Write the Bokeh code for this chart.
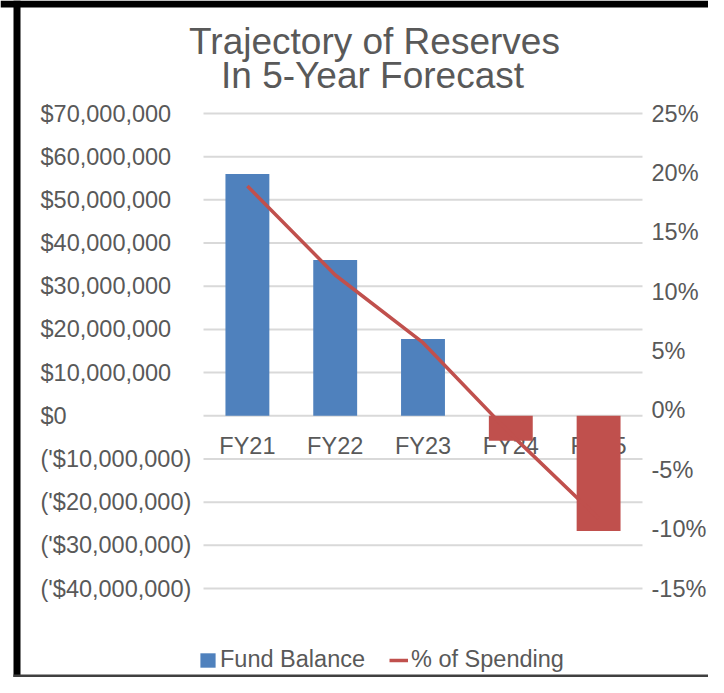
from bokeh.plotting import figure
from bokeh.models import (Range1d, Legend, LegendItem, Label, LabelSet, ColumnDataSource,
                          BoxAnnotation)
from bokeh.core.properties import value
from bokeh.embed import file_html
from bokeh.resources import INLINE

# ---- data ----
years = ["FY21", "FY22", "FY23", "FY24", "FY25"]
fund_balance = [56_000_000, 36_100_000, 17_800_000, -5_800_000, -26_700_000]
pct_spending = [0.189, 0.114, 0.057, -0.020, -0.091]

left_ticks = [70e6, 60e6, 50e6, 40e6, 30e6, 20e6, 10e6, 0, -10e6, -20e6, -30e6, -40e6]
left_labels = ["$70,000,000", "$60,000,000", "$50,000,000", "$40,000,000", "$30,000,000",
               "$20,000,000", "$10,000,000", "$0", "('$10,000,000)", "('$20,000,000)",
               "('$30,000,000)", "('$40,000,000)"]
right_ticks = [0.25, 0.20, 0.15, 0.10, 0.05, 0.0, -0.05, -0.10, -0.15]
right_labels = ["25%", "20%", "15%", "10%", "5%", "0%", "-5%", "-10%", "-15%"]

title_lines = ["Trajectory of Reserves", "In 5-Year Forecast"]
series_names = ["Fund Balance", "% of Spending"]

# ---- styling / layout ----
BLUE = "#4F81BD"
RED = "#C0504D"
TEXT = "#595959"
GRID = "#d9d9d9"
FONT = "Liberation Sans"
FS = "23.5px"

W, H = 708, 677
PL, PR, PT, PB = 203, 642, 113, 588          # plot-area edges in canvas pixels

y_lo, y_hi = min(left_ticks), max(left_ticks)
p_lo, p_hi = min(right_ticks), max(right_ticks)
ypp = (y_hi - y_lo) / (PB - PT)
ppp = (p_hi - p_lo) / (PB - PT)
n = len(years)
xpp = n / (PR - PL)
xs = list(range(n))

p = figure(width=W, height=H,
           x_range=Range1d(-0.5 - PL * xpp, n - 0.5 + (W - PR) * xpp),
           y_range=Range1d(y_lo - (H - PB) * ypp, y_hi + PT * ypp),
           x_axis_location=None, y_axis_location=None,
           output_backend="svg", toolbar_location=None, min_border=0)
p.extra_y_ranges = {"pct": Range1d(p_lo - (H - PB) * ppp, p_hi + PT * ppp)}
p.background_fill_color = "white"
p.border_fill_color = "white"
p.outline_line_color = None
p.xgrid.visible = False
p.ygrid.visible = False

# horizontal gridlines across the plot area
p.segment(x0=[-0.5] * len(left_ticks), x1=[n - 0.5] * len(left_ticks),
          y0=left_ticks, y1=left_ticks, line_color=GRID, line_width=2)

# left tick labels (left-aligned like the original)
p.add_layout(LabelSet(x=40, y="y", text="text", x_units="screen", y_units="data",
                      source=ColumnDataSource(dict(y=left_ticks, text=left_labels)),
                      text_align="left", text_baseline="middle", text_font=value(FONT),
                      text_font_size=FS, text_color=TEXT))
# right tick labels on the % scale
p.add_layout(LabelSet(x=651, y="y", text="text", x_units="screen", y_units="data",
                      y_range_name="pct",
                      source=ColumnDataSource(dict(y=right_ticks, text=right_labels)),
                      text_align="left", text_baseline="middle", text_font=value(FONT),
                      text_font_size=FS, text_color=TEXT))

# category labels at the zero line (beneath the bars)
p.text(x=xs, y=[0] * n, text=years, text_align="center",
       text_baseline="alphabetic", y_offset=30, text_font=value(FONT),
       text_font_size=FS, text_color=TEXT)

colors = [BLUE if v >= 0 else RED for v in fund_balance]
src = ColumnDataSource(dict(x=xs, top=fund_balance, color=colors))
bars = p.vbar(x="x", top="top", width=0.5, source=src, fill_color="color", line_color=None)
line = p.line(x=xs, y=pct_spending, y_range_name="pct", line_color=RED, line_width=3.5)

legend = Legend(items=[LegendItem(label=series_names[0], renderers=[bars]),
                       LegendItem(label=series_names[1], renderers=[line])],
                orientation="horizontal", location=(198, 4),
                glyph_width=19, glyph_height=18, label_standoff=3, spacing=24,
                padding=0, margin=0, border_line_alpha=0, background_fill_alpha=0,
                label_text_font=FONT, label_text_font_size=FS, label_text_color=TEXT)
p.add_layout(legend)

# title lines
p.add_layout(Label(x=374, y=H - 41, x_units="screen", y_units="screen", text=title_lines[0],
                   text_align="center", text_baseline="alphabetic", text_font=FONT,
                   text_font_size="37px", text_color=TEXT))
p.add_layout(Label(x=372, y=H - 75, x_units="screen", y_units="screen", text=title_lines[1],
                   text_align="center", text_baseline="alphabetic", text_font=FONT,
                   text_font_size="37px", text_color=TEXT))

# screenshot frame edges
for (l, r, t, b, c) in [(0, W, 0, 7, "black"), (13, 20, 0, H, "black"), (13, W, H - 3, H, "#404040")]:
    p.add_layout(BoxAnnotation(left=l, right=r, top=t, bottom=b, left_units="canvas",
                               right_units="canvas", top_units="canvas", bottom_units="canvas",
                               fill_color=c, fill_alpha=1, line_color=None, level="overlay"))

open("out.html", "w").write(file_html(p, INLINE))
